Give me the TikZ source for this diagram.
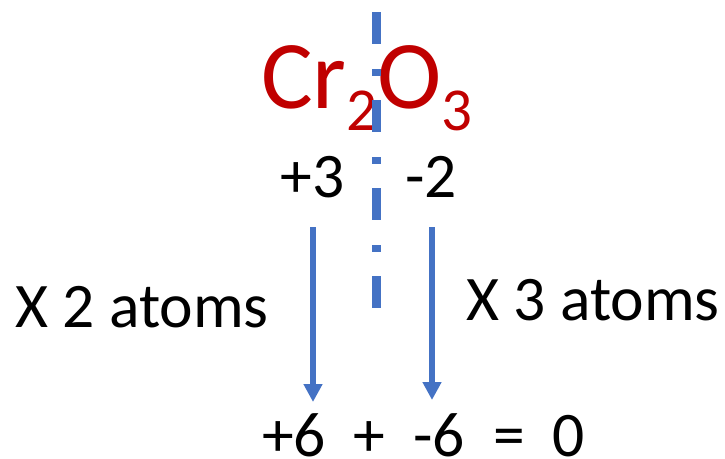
\documentclass[tikz,border=0pt]{standalone}
\usepackage{fontspec}
\setmainfont{Carlito}
\usetikzlibrary{arrows.meta}
\definecolor{cred}{HTML}{C00000}
\definecolor{cblue}{HTML}{4472C4}
\tikzset{
  lbl/.style={inner sep=0pt, anchor=base, font=\fontsize{63.5}{63.5}\selectfont, text=black},
  formula/.style={inner sep=0pt, anchor=base west, font=\fontsize{97}{97}\selectfont, text=cred},
  downarrow/.style={draw=cblue, line width=5.7pt, -{Triangle[length=18pt,width=18pt]}},
  divider/.style={draw=cblue, line width=8.5pt, dash pattern=on 32pt off 25pt on 7pt off 24pt}
}
\newcommand{\subtxt}[1]{\raisebox{-22pt}{\fontsize{61}{61}\selectfont #1}}
\begin{document}
\begin{tikzpicture}[x=1pt,y=-1pt]
\useasboundingbox (0,0) rectangle (725,458);
\node[formula] (f) at (261,108) {Cr\subtxt{2}O\subtxt{3}};
\node[lbl] (p3) at (312.5,197) {+3};
\node[lbl] (m2) at (431,197) {-2};
\node[lbl] (x2) at (142,327) {X 2 atoms};
\node[lbl] (x3) at (593,320) {X 3 atoms};
\node[lbl] (sum) at (423.5,456) {+6\hspace{28pt}+\hspace{28pt}-6\hspace{28pt}=\hspace{28pt}0};
\coordinate (a1s) at (313,227);
\coordinate (a1e) at (313,402);
\coordinate (a2s) at (432,227);
\coordinate (a2e) at (432,400);
\draw[downarrow] (a1s) -- (a1e);
\draw[downarrow] (a2s) -- (a2e);
\coordinate (dtop) at (376.5,12);
\coordinate (dbot) at (376.5,308);
\draw[divider] (dtop) -- (dbot);
\end{tikzpicture}
\end{document}
